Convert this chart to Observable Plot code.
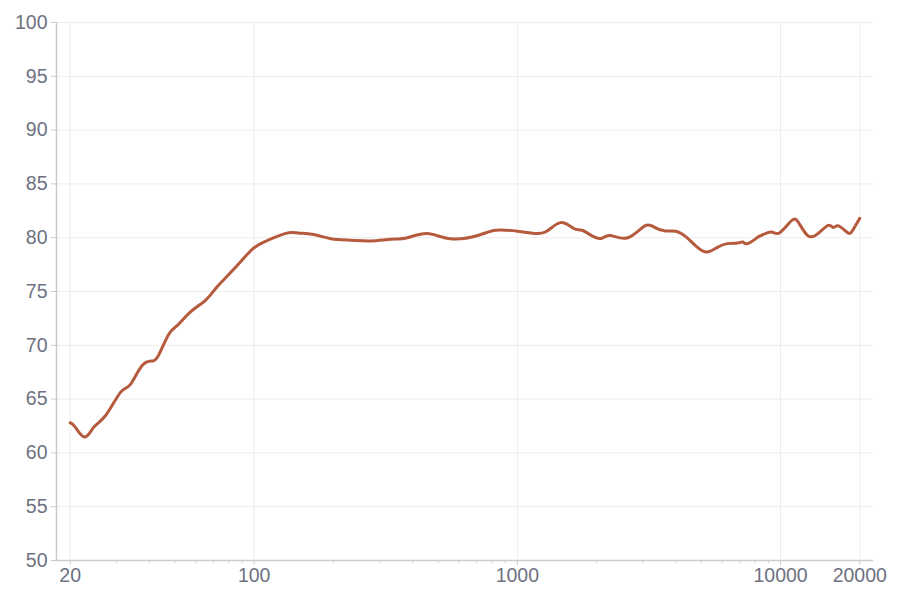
<!DOCTYPE html>
<html>
<head>
<meta charset="utf-8">
<script src="https://cdn.jsdelivr.net/npm/d3@7"></script>
<script src="https://cdn.jsdelivr.net/npm/@observablehq/plot@0.6"></script>
<style>
  html, body { margin: 0; padding: 0; background: #fff; }
  #chart { width: 900px; height: 600px; }
</style>
</head>
<body>
<div id="chart"></div>
<script>
const freq = [20, 20.9, 22.7, 24.6, 27.3, 31.1, 33.8, 37.6, 41.2, 43.6, 47.5, 51.1, 57.3, 65.3, 72.2, 82.9, 97.4, 108.8, 130.9, 146.8, 169.8, 195.8, 232.9, 278, 331, 382.6, 455, 558, 707, 829, 1002, 1123, 1278, 1459, 1640, 1761, 1956, 2103, 2264, 2627, 3049, 3338, 3652, 3996, 4373, 4786, 5237, 5730, 6270, 6861, 7186, 7508, 8215, 8430, 9203, 9896, 10963, 11670, 12680, 13870, 15180, 15870, 16610, 17990, 18810, 20000];
const spl = [62.8, 62.4, 61.47, 62.4, 63.5, 65.65, 66.34, 68.14, 68.54, 69.2, 71.08, 71.85, 73.1, 74.18, 75.42, 76.97, 78.83, 79.6, 80.38, 80.44, 80.28, 79.9, 79.76, 79.7, 79.85, 80.0, 80.38, 79.9, 80.2, 80.69, 80.6, 80.44, 80.53, 81.4, 80.85, 80.69, 80.07, 79.97, 80.2, 80.0, 81.1, 80.94, 80.63, 80.6, 80.07, 79.2, 78.67, 79.08, 79.45, 79.5, 79.6, 79.45, 80.07, 80.2, 80.53, 80.44, 81.55, 81.46, 80.2, 80.38, 81.15, 80.94, 81.1, 80.47, 80.69, 81.8];
const xMajorTicks = [20, 100, 1000, 10000, 20000];
const xMinorTicks = [30, 40, 50, 60, 70, 80, 90, 200, 300, 400, 500, 600, 700, 800, 900, 2000, 3000, 4000, 5000, 6000, 7000, 8000, 9000];
const yTicks = [50, 55, 60, 65, 70, 75, 80, 85, 90, 95, 100];

const data = freq.map((f, i) => ({f, v: spl[i]}));
const axisColor = "#cbcbcb";
const textColor = "#6e7180";

const chart = Plot.plot({
  width: 900,
  height: 600,
  marginLeft: 56,
  marginTop: 22,
  marginBottom: 40,
  marginRight: 27,
  style: {fontFamily: "'Liberation Sans', Arial, sans-serif", fontSize: "19.5px", color: textColor, background: "#fff"},
  x: {type: "log", domain: [17.74, 22550]},
  y: {domain: [50, 100]},
  marks: [
    Plot.gridY(yTicks, {stroke: "#efedeb", strokeOpacity: 1}),
    Plot.gridX(xMajorTicks, {stroke: "#efedeb", strokeOpacity: 1}),
    Plot.axisY(yTicks, {tickSize: 5, tickPadding: 4, stroke: axisColor, fill: textColor, fontSize: 19.5, label: null}),
    Plot.axisX(xMinorTicks, {tickSize: 3, text: null, stroke: axisColor, label: null}),
    Plot.axisX(xMajorTicks, {tickSize: 5, tickPadding: 3, stroke: axisColor, fill: textColor, fontSize: 19.5, tickFormat: d => String(d), label: null}),
    Plot.ruleY([50], {stroke: axisColor, strokeWidth: 1.5}),
    Plot.ruleX([17.74], {stroke: axisColor, strokeWidth: 1.5}),
    Plot.line(data, {x: "f", y: "v", stroke: "#b65a3d", strokeWidth: 3, curve: "natural"})
  ]
});
document.getElementById("chart").appendChild(chart);
</script>
</body>
</html>
